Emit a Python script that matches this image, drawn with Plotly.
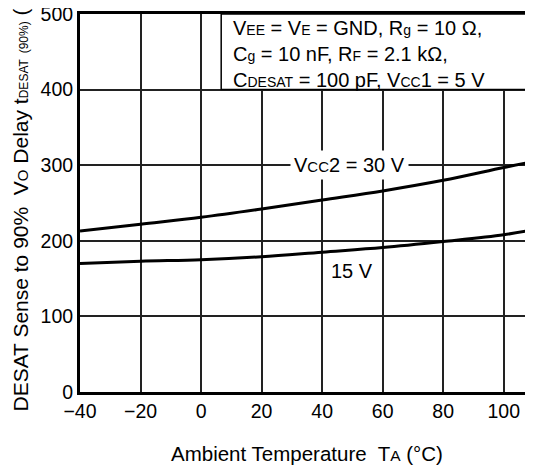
import plotly.graph_objects as go

# Ambient temperature (degC) and read-off delay values (ns)
temp_c = [-40, -20, 0, 20, 40, 60, 80, 100, 110]
delay_30v = [213, 222, 231, 242, 254, 266, 280, 297, 305]
delay_15v = [170, 173, 175, 179, 185, 191, 199, 208, 215]

x_ticks = [-40, -20, 0, 20, 40, 60, 80, 100]
y_ticks = [0, 100, 200, 300, 400, 500]

FONT = "Liberation Sans, Arial, Helvetica, sans-serif"


def sm(s, size=14):
    # small-cap style subscript as in the datasheet (no baseline shift)
    return f'<span style="font-size:{size}px">{s}</span>'


fig = go.Figure()
for ys in (delay_30v, delay_15v):
    fig.add_trace(go.Scatter(
        x=temp_c, y=ys, mode="lines",
        line=dict(color="black", width=3, shape="spline"),
        showlegend=False, hoverinfo="skip"
    ))

# condition box in the upper right corner
fig.add_shape(
    type="rect", xref="paper", yref="paper",
    x0=0.311, x1=1.03, y0=0.8, y1=1.0,
    fillcolor="white", line=dict(color="black", width=1.5), layer="above"
)
fig.add_annotation(
    xref="paper", yref="paper", x=0.333, y=0.997,
    xanchor="left", yanchor="top", align="left", showarrow=False,
    text=f"V{sm('EE')} = V{sm('E')} = GND, R{sm('g')} = 10 Ω,<br>"
         f"C{sm('g')} = 10 nF, R{sm('F')} = 2.1 kΩ,<br>"
         f"C{sm('DESAT')} = 100 pF, V{sm('CC')}1 = 5 V",
    font=dict(family=FONT, size=20, color="black")
)

# curve labels
fig.add_annotation(
    x=49, y=300, text=f"V{sm('CC', 15)}2 = 30 V", showarrow=False,
    bgcolor="white", borderpad=3, font=dict(family=FONT, size=20, color="black")
)
fig.add_annotation(
    x=50, y=160, text="15 V", showarrow=False,
    font=dict(family=FONT, size=20, color="black")
)

# axis titles; the y one is longer than the figure and runs off the top
fig.add_annotation(
    xref="paper", yref="paper", x=-0.132, y=0.52,
    xanchor="center", yanchor="middle",
    textangle=-90, showarrow=False,
    text=f"DESAT Sense to 90%  V{sm('O', 15)} Delay t{sm('DESAT', 12)} {sm('(90%)', 12)} (ns)",
    font=dict(family=FONT, size=21, color="black")
)
fig.add_annotation(
    xref="paper", yref="paper", x=0.499, y=-0.162,
    xanchor="center", yanchor="middle", showarrow=False,
    text=f"Ambient Temperature  T{sm('A', 15.5)} (°C)",
    font=dict(family=FONT, size=20.5, color="black")
)

fig.update_layout(
    width=533, height=465,
    margin=dict(l=72, r=7, t=6, b=81),
    paper_bgcolor="white", plot_bgcolor="white",
    font=dict(family=FONT, size=19.5, color="black"),
    xaxis=dict(
        range=[-40, 110], tickvals=x_ticks,
        showgrid=True, gridcolor="#222222", gridwidth=1.5,
        showline=True, linecolor="black", linewidth=3, mirror=True,
        ticks="", zeroline=False, ticklabeloverflow="allow", automargin=False
    ),
    yaxis=dict(
        range=[0, 500], tickvals=y_ticks,
        showgrid=True, gridcolor="#222222", gridwidth=1.5,
        showline=True, linecolor="black", linewidth=3,
        ticks="", zeroline=False, ticklabeloverflow="allow", automargin=False
    )
)

fig.write_html("out.html")
